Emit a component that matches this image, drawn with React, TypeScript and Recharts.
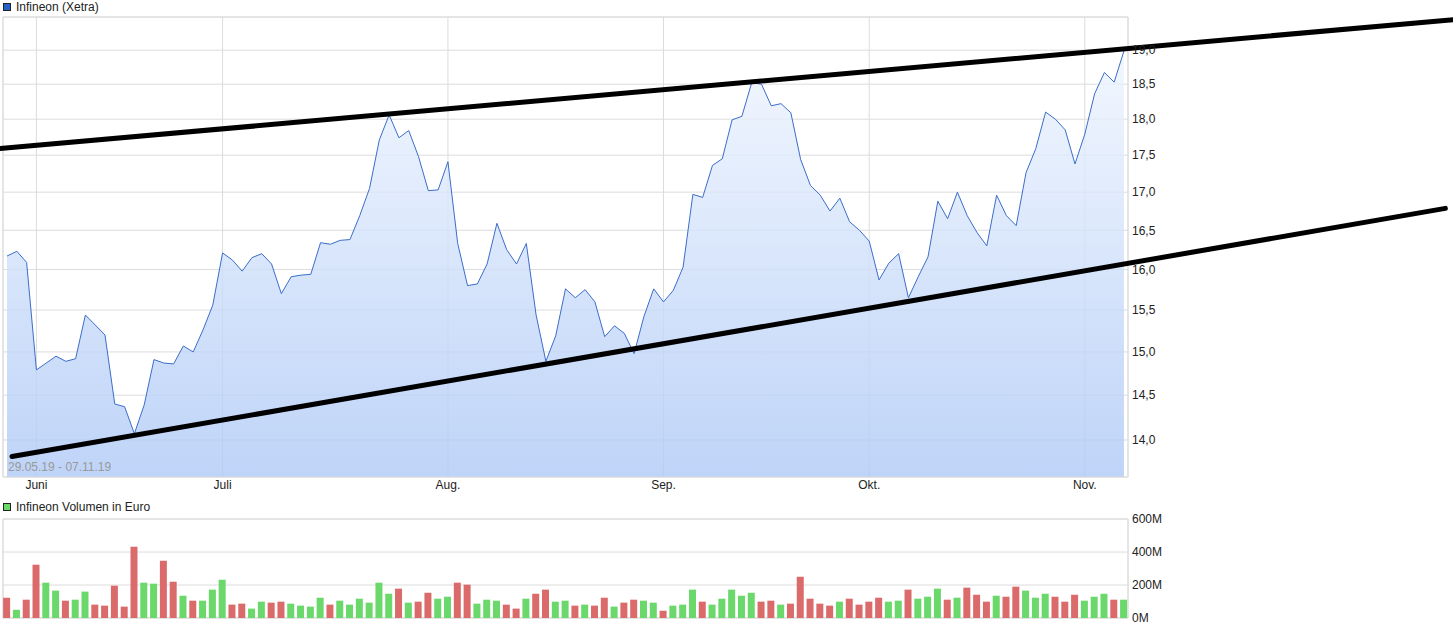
import React from 'react';
import { ComposedChart, Area, Bar, Cell, XAxis, YAxis, CartesianGrid, ReferenceLine, ReferenceArea } from 'recharts';

// Xetra closes, 29.05.19 - 07.11.19 (one entry per trading day)
const PRICES = [
  16.17, 16.23, 16.09, 14.79, 14.87, 14.95, 14.89, 14.92, 15.44, 15.32,
  15.2, 14.4, 14.37, 14.07, 14.39, 14.91, 14.87, 14.86, 15.07, 15.0,
  15.26, 15.56, 16.21, 16.12, 15.98, 16.15, 16.2, 16.07, 15.7, 15.91,
  15.93, 15.94, 16.34, 16.32, 16.37, 16.38, 16.69, 17.05, 17.71, 18.06,
  17.74, 17.84, 17.48, 17.02, 17.03, 17.41, 16.33, 15.8, 15.82, 16.07,
  16.59, 16.25, 16.07, 16.33, 15.44, 14.89, 15.19, 15.76, 15.65, 15.75,
  15.6, 15.18, 15.31, 15.22, 14.98, 15.42, 15.76, 15.6, 15.74, 16.03,
  16.97, 16.93, 17.36, 17.45, 17.99, 18.04, 18.52, 18.5, 18.19, 18.22,
  18.09, 17.44, 17.09, 16.96, 16.75, 16.92, 16.61, 16.5, 16.36, 15.87,
  16.08, 16.2, 15.65, 15.91, 16.16, 16.88, 16.65, 17.0, 16.69, 16.47,
  16.3, 16.96, 16.69, 16.56, 17.26, 17.59, 18.1, 18.0, 17.85, 17.38,
  17.79, 18.36, 18.67, 18.53, 18.99,
];
const PREV_CLOSE = 16.3;

// volume in million euro
const VOLUMES = [
  123, 50, 111, 323, 214, 166, 105, 111, 160, 81,
  75, 196, 69, 432, 214, 208, 347, 220, 135, 105,
  105, 172, 232, 81, 87, 57, 99, 93, 99, 87,
  75, 69, 123, 81, 105, 81, 117, 93, 214, 147,
  178, 93, 99, 153, 117, 129, 214, 202, 87, 111,
  105, 81, 57, 117, 147, 172, 99, 105, 75, 81,
  75, 123, 69, 93, 111, 105, 93, 44, 75, 81,
  172, 99, 81, 117, 172, 135, 153, 99, 105, 81,
  87, 250, 117, 87, 75, 99, 117, 81, 99, 123,
  99, 105, 172, 117, 129, 178, 111, 123, 184, 141,
  99, 135, 129, 190, 166, 123, 147, 129, 99, 141,
  105, 129, 147, 111, 111,
];

const MONTH_TICKS = [3, 22, 45, 67, 88, 110];
const MONTH_LABELS = ['Juni', 'Juli', 'Aug.', 'Sep.', 'Okt.', 'Nov.'];
const PRICE_TICKS = [14, 14.5, 15, 15.5, 16, 16.5, 17, 17.5, 18, 18.5, 19];
const VOLUME_TICKS = [0, 200, 400, 600];

// hand-drawn channel: [dayIndex, price] start and end
const TREND_LINES = [
  [[-0.72, 17.59], [147.6, 19.46]],
  [[0.51, 13.82], [146.8, 16.785]],
];

const X_DOMAIN: [number, number] = [-0.41, 114.41];
const PRICE_DOMAIN: [number, number] = [13.6, 19.5];
const FONT = 'Arial, "Liberation Sans", sans-serif';
const GREEN = '#6ad86a';
const RED = '#db6b6b';

const rows = PRICES.map((price, i) => ({ i, price, volume: VOLUMES[i] }));
const barColor = (i: number) => (PRICES[i] >= (i === 0 ? PREV_CLOSE : PRICES[i - 1]) ? GREEN : RED);

const tickStyle = { fill: '#222', fontSize: 12 };

const Header = ({ top, color, text }: { top: number; color: string; text: string }) => (
  <div style={{ position: 'absolute', left: 3, top, height: 14, lineHeight: '14px', display: 'flex', alignItems: 'center', fontSize: 12, color: '#222' }}>
    <span style={{ width: 6, height: 6, background: color, border: '1px solid #222', marginRight: 5 }} />
    {text}
  </div>
);

export default function App() {
  return (
    <div style={{ position: 'absolute', left: 0, top: 0, width: 1453, height: 630, overflow: 'hidden', background: '#fff', fontFamily: FONT }}>
      <div style={{ position: 'absolute', left: 0, top: 0 }}>
        <ComposedChart width={1453} height={495} data={rows} margin={{ top: 17, right: 285, bottom: 0, left: 3 }}>
          <defs>
            <linearGradient id="priceFill" x1="0" y1="0" x2="0" y2="1">
              <stop offset="0%" stopColor="#eff5fe" />
              <stop offset="100%" stopColor="#aec9f6" />
            </linearGradient>
          </defs>
          <CartesianGrid stroke="#dcdcdc" />
          <XAxis
            dataKey="i"
            type="number"
            domain={X_DOMAIN}
            allowDataOverflow
            ticks={MONTH_TICKS}
            interval={0}
            tickFormatter={(v) => MONTH_LABELS[MONTH_TICKS.indexOf(v)]}
            axisLine={false}
            tickLine={false}
            tickSize={0}
            tickMargin={3}
            height={18}
            tick={tickStyle}
          />
          <YAxis
            orientation="right"
            type="number"
            scale="log"
            domain={PRICE_DOMAIN}
            allowDataOverflow
            ticks={PRICE_TICKS}
            interval={0}
            tickFormatter={(v) => v.toFixed(1).replace('.', ',')}
            axisLine={false}
            tickLine={false}
            tickSize={0}
            tickMargin={4}
            width={40}
            tick={tickStyle}
          />
          <Area
            type="linear"
            dataKey="price"
            stroke="#3b6dca"
            strokeWidth={1}
            fill="url(#priceFill)"
            fillOpacity={0.8}
            dot={false}
            activeDot={false}
            isAnimationActive={false}
          />
          <ReferenceArea x1={X_DOMAIN[0]} x2={X_DOMAIN[1]} y1={PRICE_DOMAIN[0]} y2={PRICE_DOMAIN[1]} fill="none" stroke="#dcdcdc" ifOverflow="visible" />
          {TREND_LINES.map((seg, k) => (
            <ReferenceLine
              key={k}
              segment={[{ x: seg[0][0], y: seg[0][1] }, { x: seg[1][0], y: seg[1][1] }]}
              stroke="#000"
              strokeWidth={5}
              strokeLinecap="round"
              ifOverflow="visible"
            />
          ))}
        </ComposedChart>
      </div>

      <div style={{ position: 'absolute', left: 0, top: 510 }}>
        <ComposedChart width={1453} height={120} data={rows} margin={{ top: 9, right: 285, bottom: 12, left: 3 }}>
          <CartesianGrid stroke="#dcdcdc" />
          <XAxis
            dataKey="i"
            type="number"
            domain={X_DOMAIN}
            allowDataOverflow
            ticks={MONTH_TICKS}
            interval={0}
            tick={false}
            axisLine={false}
            tickLine={false}
            height={0}
          />
          <YAxis
            orientation="right"
            type="number"
            domain={[0, 600]}
            allowDataOverflow
            ticks={VOLUME_TICKS}
            interval={0}
            tickFormatter={(v) => `${v}M`}
            axisLine={false}
            tickLine={false}
            tickSize={0}
            tickMargin={4}
            width={40}
            tick={tickStyle}
          />
          <Bar dataKey="volume" barSize={7} isAnimationActive={false}>
            {rows.map((r) => (
              <Cell key={r.i} fill={barColor(r.i)} />
            ))}
          </Bar>
          <ReferenceArea x1={X_DOMAIN[0]} x2={X_DOMAIN[1]} y1={0} y2={600} fill="none" stroke="#dcdcdc" ifOverflow="visible" />
        </ComposedChart>
      </div>

      <Header top={0} color="#2462c8" text="Infineon (Xetra)" />
      <Header top={500} color={GREEN} text="Infineon Volumen in Euro" />
      <div style={{ position: 'absolute', left: 8, top: 461, fontSize: 12, lineHeight: '12px', color: '#999' }}>29.05.19 - 07.11.19</div>
    </div>
  );
}
